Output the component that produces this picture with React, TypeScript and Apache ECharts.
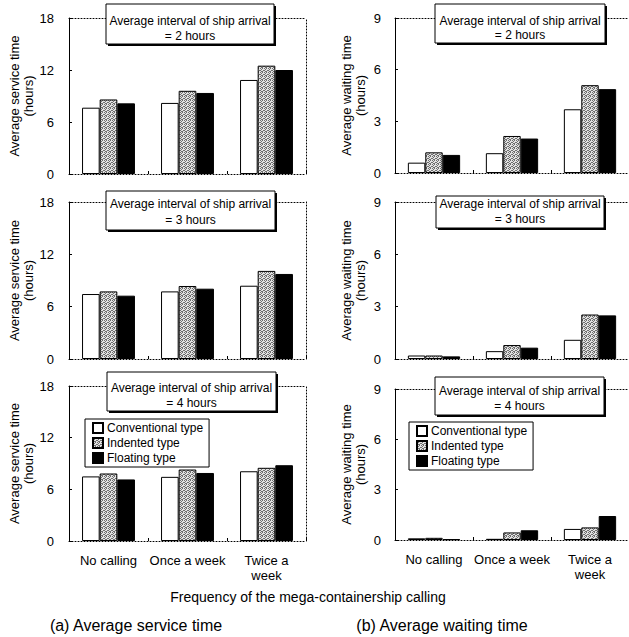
import React, { useEffect, useRef } from 'react';
import * as echarts from 'echarts';

// ---------- data ----------
const categories = ['No calling', 'Once a week', 'Twice a\nweek'];
const seriesNames = ['Conventional type', 'Indented type', 'Floating type'];
const intervalTitle = 'Average interval of ship arrival';
const intervalLabels = ['= 2 hours', '= 3 hours', '= 4 hours'];
const serviceAxisName = 'Average service time\n(hours)';
const waitingAxisName = 'Average waiting time\n(hours)';
const xAxisTitle = 'Frequency of the mega-containership calling';
const captionA = '(a) Average service time';
const captionB = '(b) Average waiting time';
const serviceTicks = { max: 18, interval: 6 };
const waitingTicks = { max: 9, interval: 3 };

// Average service time (hours)
const service2hConventional = [7.65, 8.2, 10.85];
const service2hIndented = [8.6, 9.6, 12.5];
const service2hFloating = [8.15, 9.35, 12.0];
const service3hConventional = [7.45, 7.75, 8.4];
const service3hIndented = [7.75, 8.37, 10.1];
const service3hFloating = [7.26, 8.06, 9.75];
const service4hConventional = [7.5, 7.45, 8.1];
const service4hIndented = [7.84, 8.3, 8.5];
const service4hFloating = [7.15, 7.9, 8.8];

// Average waiting time (hours)
const waiting2hConventional = [0.6, 1.15, 3.7];
const waiting2hIndented = [1.2, 2.15, 5.1];
const waiting2hFloating = [1.05, 2.0, 4.87];
const waiting3hConventional = [0.2, 0.45, 1.1];
const waiting3hIndented = [0.2, 0.8, 2.55];
const waiting3hFloating = [0.15, 0.65, 2.5];
const waiting4hConventional = [0.1, 0.07, 0.66];
const waiting4hIndented = [0.13, 0.45, 0.75];
const waiting4hFloating = [0.05, 0.58, 1.43];

// ---------- layout ----------
const FONT = '"Liberation Sans", Arial, Helvetica, sans-serif';

const panels = [
  { row: 0, col: 0, left: 69, top: 18, width: 237, height: 156, data: [service2hConventional, service2hIndented, service2hFloating],
    box: { x: 106, y: 4, w: 168, h: 40, t1: 21, t2: 36 } },
  { row: 0, col: 1, left: 395, top: 18, width: 236, height: 155, data: [waiting2hConventional, waiting2hIndented, waiting2hFloating],
    box: { x: 435, y: 4, w: 170, h: 39, t1: 21, t2: 35 } },
  { row: 1, col: 0, left: 69, top: 202, width: 237, height: 157, data: [service3hConventional, service3hIndented, service3hFloating],
    box: { x: 106, y: 191, w: 169, h: 39, t1: 204, t2: 220 } },
  { row: 1, col: 1, left: 395, top: 202, width: 236, height: 157, data: [waiting3hConventional, waiting3hIndented, waiting3hFloating],
    box: { x: 436, y: 196, w: 168, h: 32, t1: 204, t2: 219 } },
  { row: 2, col: 0, left: 69, top: 386, width: 237, height: 155, data: [service4hConventional, service4hIndented, service4hFloating],
    box: { x: 107, y: 372, w: 169, h: 39, t1: 388, t2: 403 } },
  { row: 2, col: 1, left: 395, top: 389, width: 236, height: 151, data: [waiting4hConventional, waiting4hIndented, waiting4hFloating],
    box: { x: 435, y: 377, w: 169, h: 38, t1: 391, t2: 406 } },
];

function makeStipple(): any {
  const c = document.createElement('canvas');
  c.width = 4;
  c.height = 4;
  const ctx = c.getContext('2d');
  if (!ctx) return '#b0b0b0';
  ctx.fillStyle = '#e2e2e2';
  ctx.fillRect(0, 0, 4, 4);
  ctx.fillStyle = '#6e6e6e';
  const dots = [[0, 0], [2, 0], [1, 1], [3, 2], [0, 2], [2, 3], [1, 3]];
  dots.forEach(([x, y]) => ctx.fillRect(x, y, 1, 1));
  return { image: c, repeat: 'repeat' };
}

export default function App() {
  const ref = useRef<HTMLDivElement>(null);

  useEffect(() => {
    if (!ref.current) return;
    const chart = echarts.init(ref.current, undefined, { renderer: 'svg' });
    const fills = ['#ffffff', makeStipple(), '#000000'];

    const grid: any[] = [];
    const xAxis: any[] = [];
    const yAxis: any[] = [];
    const series: any[] = [];
    const graphic: any[] = [];

    panels.forEach((p, i) => {
      const isService = p.col === 0;
      const ticks = isService ? serviceTicks : waitingTicks;
      grid.push({ left: p.left, top: p.top, width: p.width, height: p.height });
      xAxis.push({
        type: 'category', gridIndex: i, data: categories, position: 'bottom', z: 1,
        axisLine: { show: true, onZero: false, lineStyle: { color: '#000', width: 1, type: [1, 2] } },
        axisTick: { show: true, inside: true, length: 3, lineStyle: { color: '#000' } },
        axisLabel: { show: p.row === 2, interval: 0, color: '#000', fontSize: 13, lineHeight: 15, margin: 12, fontFamily: FONT },
      });
      xAxis.push({
        type: 'category', gridIndex: i, data: categories, position: 'top', z: 1,
        axisLine: { show: true, onZero: false, lineStyle: { color: '#000', width: 1, type: [1, 2] } },
        axisTick: { show: false }, axisLabel: { show: false },
      });
      yAxis.push({
        type: 'value', gridIndex: i, min: 0, max: ticks.max, interval: ticks.interval, position: 'left', z: 1,
        axisLine: { show: true, onZero: false, lineStyle: { color: '#000', width: 1 } },
        axisTick: { show: true, inside: true, length: 3, lineStyle: { color: '#000' } },
        splitLine: { show: false },
        axisLabel: { color: '#000', fontSize: 13, margin: isService ? 15 : 14, fontFamily: FONT },
        name: isService ? serviceAxisName : waitingAxisName,
        nameLocation: 'middle', nameRotate: 90, nameGap: isService ? 27 : 28,
        nameTextStyle: { color: '#000', fontSize: 13, lineHeight: 14, fontFamily: FONT },
      });
      yAxis.push({
        type: 'value', gridIndex: i, min: 0, max: ticks.max, interval: ticks.interval, position: 'right', z: 1,
        axisLine: { show: true, onZero: false, lineStyle: { color: '#000', width: 1, type: [1, 2] } },
        axisTick: { show: false }, axisLabel: { show: false }, splitLine: { show: false },
      });
      seriesNames.forEach((name, k) => {
        series.push({
          type: 'bar', name, xAxisIndex: 2 * i, yAxisIndex: 2 * i, data: p.data[k],
          barGap: '0%', barCategoryGap: '33%', z: 2,
          itemStyle: { color: fills[k], borderColor: '#000', borderWidth: 1 },
          emphasis: { disabled: true },
        });
      });

      const b = p.box;
      const cx = b.x + b.w / 2;
      graphic.push({ type: 'rect', z: 100, shape: { x: b.x + 2, y: b.y + 2, width: b.w, height: b.h }, style: { fill: '#000' } });
      graphic.push({ type: 'rect', z: 101, shape: { x: b.x, y: b.y, width: b.w, height: b.h }, style: { fill: '#fff', stroke: '#000', lineWidth: 1 } });
      graphic.push({ type: 'text', z: 102, x: cx, y: b.t1, style: { text: intervalTitle, fill: '#000', font: `12px ${FONT}`, textAlign: 'center', textVerticalAlign: 'middle' } });
      graphic.push({ type: 'text', z: 102, x: cx, y: b.t2, style: { text: intervalLabels[p.row], fill: '#000', font: `12px ${FONT}`, textAlign: 'center', textVerticalAlign: 'middle' } });
    });

    graphic.push({ type: 'text', x: 308, y: 597, z: 100, style: { text: xAxisTitle, fill: '#000', font: `14px ${FONT}`, textAlign: 'center', textVerticalAlign: 'middle' } });
    graphic.push({ type: 'text', x: 136, y: 625, z: 100, style: { text: captionA, fill: '#000', font: `16px ${FONT}`, textAlign: 'center', textVerticalAlign: 'middle' } });
    graphic.push({ type: 'text', x: 442, y: 625, z: 100, style: { text: captionB, fill: '#000', font: `16px ${FONT}`, textAlign: 'center', textVerticalAlign: 'middle' } });

    const legendCommon = {
      orient: 'vertical', data: seriesNames, icon: 'rect', itemWidth: 10, itemHeight: 10, itemGap: 3,
      borderColor: '#000', borderWidth: 1, backgroundColor: '#fff', selectedMode: false, z: 50,
      textStyle: { color: '#000', fontSize: 12, fontFamily: FONT, padding: [0, 0, 0, -1] },
    };

    chart.setOption({
      animation: false,
      grid,
      xAxis,
      yAxis,
      series,
      graphic: { z: 100, elements: graphic },
      legend: [
        { ...legendCommon, left: 85, top: 419, padding: [3, 6, 3, 7] },
        { ...legendCommon, left: 409, top: 422, padding: [3, 6, 3, 7] },
      ],
    });

    return () => chart.dispose();
  }, []);

  return <div ref={ref} style={{ position: 'absolute', left: 0, top: 0, width: 629, height: 637 }} />;
}
